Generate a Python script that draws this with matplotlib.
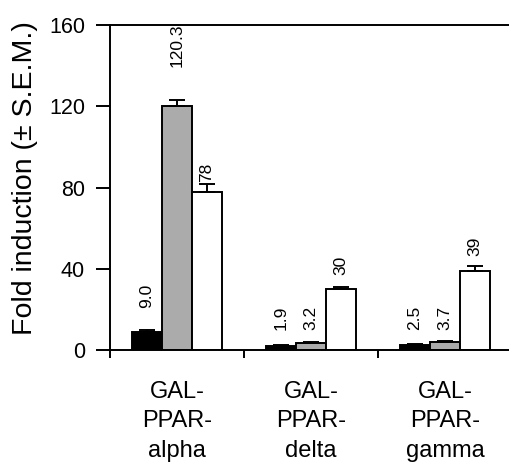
import numpy as np
import matplotlib
matplotlib.use("Agg")
import matplotlib.pyplot as plt

plt.rcParams['font.family'] = ['Liberation Sans', 'DejaVu Sans']

groups = ["GAL-\nPPAR-\nalpha", "GAL-\nPPAR-\ndelta", "GAL-\nPPAR-\ngamma"]
black_vals = [9.0, 1.9, 2.5]
gray_vals = [120.3, 3.2, 3.7]
white_vals = [78, 30, 39]
black_err = [0.6, 0.4, 0.4]
gray_err = [3.0, 0.6, 0.6]
white_err = [3.8, 1.2, 2.2]
black_txt = ["9.0", "1.9", "2.5"]
gray_txt = ["120.3", "3.2", "3.7"]
white_txt = ["78", "30", "39"]
# where the value labels sit (data units, bottom of rotated text)
black_lab_y = [20.5, 9.8, 9.8]
gray_lab_y = [139.5, 9.8, 9.8]
white_lab_y = [82.5, 37, 46.5]

fig = plt.figure(figsize=(5.09, 4.66), dpi=100)
ax = fig.add_axes([0.216, 0.249, 0.79, 0.697])

x = np.arange(len(groups))
w = 0.225
series = [
    (black_vals, black_err, black_txt, black_lab_y, "black", -w),
    (gray_vals, gray_err, gray_txt, gray_lab_y, "#ababab", 0),
    (white_vals, white_err, white_txt, white_lab_y, "white", w),
]
for vals, err, txt, laby, col, off in series:
    ax.bar(x + off, vals, w, color=col, edgecolor="black", linewidth=1.4,
           yerr=[np.zeros(len(vals)), err], capsize=6,
           error_kw=dict(ecolor="black", elinewidth=1.4, capthick=1.4))
    for xi, t, ly in zip(x + off, txt, laby):
        ax.text(xi, ly, t, rotation=90, ha="center", va="bottom", fontsize=12.5)

ax.set_xlim(-0.5, 2.5)
ax.set_ylim(0, 160)
ax.set_yticks([0, 40, 80, 120, 160])
ax.set_xticks(x)
ax.set_xticklabels(groups, fontsize=17, linespacing=1.45)
ax.set_xticks([-0.5, 0.5, 1.5], minor=True)
ax.tick_params(axis="x", which="major", length=0, pad=22)
ax.tick_params(axis="x", which="minor", length=6, width=1.4, direction="out")
ax.tick_params(axis="y", labelsize=15.5, length=10, width=1.4, direction="out", pad=8)
ax.set_ylabel("Fold induction (± S.E.M.)", fontsize=20.5)
ax.yaxis.set_label_coords(-0.178, 0.53)

for s in ["left", "bottom", "top"]:
    ax.spines[s].set_linewidth(1.4)
ax.spines["right"].set_visible(False)

fig.savefig("out.png", dpi=100)
